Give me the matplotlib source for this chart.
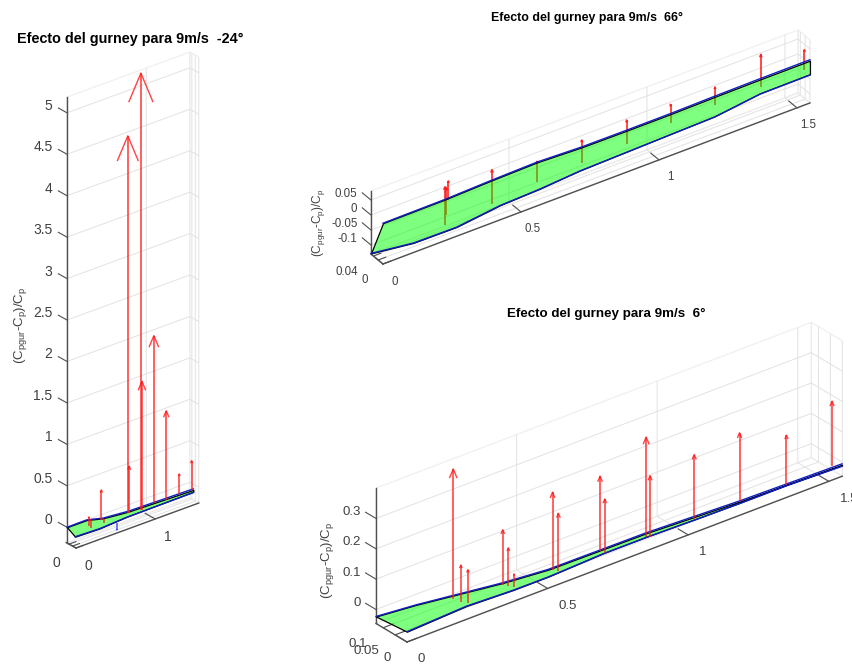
#!/usr/bin/env python
# coding: utf-8
import numpy as np
import matplotlib
matplotlib.use('Agg')
from matplotlib import pyplot as plt
from mpl_toolkits.mplot3d import proj3d
from mpl_toolkits.mplot3d.art3d import Poly3DCollection

plt.rcParams['font.family'] = ['Liberation Sans', 'DejaVu Sans']
plt.rcParams['mathtext.default'] = 'regular'

W, H = 853, 664

# panel -24 deg: wing edges (span x, chord y, height z) and arrows
a_far_x = [0, 0.232, 0.427, 0.727, 1.52]
a_far_y = [0.13, 0.11, 0.097, 0.078, 0.045]
a_far_z = [0, 0.015, -0.027, -0.043, -0.042]
a_near_x = [0, 0.32, 0.665, 1.519]
a_near_y = [0.013, 0.02, 0.026, 0.043]
a_near_z = [-0.06, -0.074, -0.058, -0.062]
a_arrow_x = [0.711, 0.876, 0.889, 1.04, 1.196, 1.361, 1.516, 0.728, 0.377, 0.22, 0.24, 0.405]
a_arrow_z = [-0.047, -0.068, -0.07, -0.042, -0.06, -0.045, -0.05, -0.053, -0.014, -0.032, -0.063, -0.06]
a_arrow_dz = [4.55, 5.27, 1.55, 2.02, 1.076, 0.241, 0.353, 0.566, 0.361, 0.11, 0.1, 0.05]
a_neg_x = [0.572]
a_neg_z = [-0.119]
a_neg_dz = [-0.084]

# panel 66 deg
b_far_x = [0, 0.225, 0.394, 0.559, 0.72, 0.883, 1.04, 1.203, 1.366, 1.547]
b_far_y = [0, 0, 0, 0, 0, 0, 0, 0, 0, 0]
b_far_z = [0.006, 0.007, 0.012, 0.015, 0.009, 0.008, 0.008, 0.01, 0.011, 0.011]
b_near_x = [0, 0.147, 0.297, 0.448, 0.588, 0.729, 1.049, 1.209, 1.37, 1.547]
b_near_y = [0.05, 0.0425, 0.035, 0.0275, 0.0225, 0.0175, 0.01, 0.0075, 0.005, 0]
b_near_z = [-0.128, -0.139, -0.133, -0.108, -0.098, -0.083, -0.068, -0.062, -0.04, -0.034]
b_arrow_x = [0.238, 0.243, 0.25, 0.408, 0.571, 0.733, 0.896, 1.055, 1.216, 1.382, 1.54]
b_arrow_z = [-0.093, -0.06, -0.014, -0.083, -0.066, -0.058, -0.051, -0.035, -0.032, -0.03, -0.027]
b_arrow_dz = [0.128, 0.09, 0.064, 0.116, 0.07, 0.077, 0.08, 0.061, 0.06, 0.109, 0.067]

# panel 6 deg
c_far_x = [0, 0.128, 0.248, 0.403, 0.549, 0.881, 1.196, 1.547]
c_far_y = [0.13, 0.11, 0.0975, 0.0715, 0.0546, 0.0325, 0.013, 0]
c_far_z = [-0.023, -0.02, -0.026, -0.027, -0.027, -0.013, -0.011, -0.008]
c_near_x = [0, 0.212, 0.378, 0.503, 0.699, 0.853, 1.019, 1.185, 1.351, 1.547]
c_near_y = [0, 0, 0, 0, 0, 0, 0, 0, 0, 0]
c_near_z = [-0.012, -0.002, -0.008, -0.008, 0, 0, -0.003, -0.005, -0.005, -0.01]
c_arrow_x = [0.181, 0.208, 0.233, 0.357, 0.377, 0.397, 0.534, 0.555, 0.703, 0.72, 0.867, 0.881, 1.038, 1.199, 1.366, 1.528]
c_arrow_z = [0.022, 0.004, -0.009, 0.007, -0.005, -0.015, -0.006, -0.016, -0.005, -0.016, -0.014, -0.019, -0.015, -0.015, -0.019, -0.016]
c_arrow_dz = [0.429, 0.121, 0.11, 0.182, 0.127, 0.044, 0.256, 0.189, 0.248, 0.178, 0.328, 0.201, 0.211, 0.226, 0.163, 0.215]

a_xticks, a_xlabels = [0, 1], ['0', '1']
a_yticks, a_ylabels = [0, 0.05, 0.1], ['0', '', '']
a_zticks = [0, 0.5, 1, 1.5, 2, 2.5, 3, 3.5, 4, 4.5, 5]
a_zlabels = ['0', '0.5', '1', '1.5', '2', '2.5', '3', '3.5', '4', '4.5', '5']
b_xticks, b_xlabels = [0, 0.5, 1, 1.5], ['0', '0.5', '1', '1.5']
b_yticks, b_ylabels = [0, 0.02, 0.04], ['0', '', '0.04']
b_zticks = [-0.1, -0.05, 0, 0.05]
b_zlabels = ['-0.1', '-0.05', '0', '0.05']
c_xticks, c_xlabels = [0, 0.5, 1, 1.5], ['0', '0.5', '1', '1.5']
c_yticks, c_ylabels = [0, 0.05, 0.1], ['0', '0.05', '0.1']
c_zticks = [0, 0.1, 0.2, 0.3]
c_zlabels = ['0', '0.1', '0.2', '0.3']


def screen(ax, x, y, z):
    X, Y, _ = proj3d.proj_transform(x, y, z, ax.get_proj())
    return ax.transData.transform((X, Y))


def make_axes(fig, elev, azim, lims, box, origin):
    """Orthographic axes whose x=0, y=0, zmin corner lands on origin (pixels from top left)."""
    side = 900
    ax = fig.add_axes([0, 0, side / W, side / H], projection='3d', proj_type='ortho')
    ax.view_init(elev=elev, azim=azim)
    ax.set_xlim(*lims[0])
    ax.set_ylim(*lims[1])
    ax.set_zlim(*lims[2])
    ax.set_box_aspect(box)
    ax.apply_aspect()
    corner = (lims[0][0], lims[1][0], lims[2][0])
    p0 = screen(ax, *corner)
    p1 = screen(ax, lims[0][1], lims[1][0], lims[2][0])
    wanted = box[0] * np.cos(np.radians(-90 - azim))
    zoom = wanted / abs(p1[0] - p0[0])
    ax.set_box_aspect(box, zoom=zoom)
    ax.apply_aspect()
    p0 = screen(ax, *corner)
    left = origin[0] - p0[0]
    bottom = (H - origin[1]) - p0[1]
    ax.set_position([left / W, bottom / H, side / W, side / H])
    ax.apply_aspect()
    ax.patch.set_alpha(0)
    ax.computed_zorder = False
    return ax


def style_axes(ax, xticks, yticks, zticks, factors):
    ax.set_xticks(xticks)
    ax.set_yticks(yticks)
    ax.set_zticks(zticks)
    ax.set_xticklabels([''] * len(xticks))
    ax.set_yticklabels([''] * len(yticks))
    ax.set_zticklabels([''] * len(zticks))
    # z ticks run along y, as in the original view
    ax.zaxis._get_tickdir = lambda pos: 1
    for axis, fac, name in zip((ax.xaxis, ax.yaxis, ax.zaxis), factors, 'xyz'):
        axis.pane.set_facecolor((1, 1, 1, 0))
        axis.pane.set_edgecolor('#e4e4e4')
        axis.line.set_color('#505050')
        axis.line.set_linewidth(1.0)
        axis._axinfo['grid']['color'] = '#e2e2e2'
        axis._axinfo['grid']['linewidth'] = 0.7
        axis._axinfo['tick']['outward_factor'] = fac
        axis._axinfo['tick']['inward_factor'] = 0
        axis._axinfo['tick']['linewidth'] = {True: 0.8, False: 0.5}
        ax.tick_params(axis=name, color='#505050')


def tick_text(fig, ax, points, labels, offset, size, ha):
    """Tick label at a fixed pixel offset from its projected tick position."""
    for pt, s in zip(points, labels):
        if not s:
            continue
        px, py = screen(ax, *pt)
        fig.text((px + offset[0]) / W, (py - offset[1]) / H, s, fontsize=size, color='#404040',
                 ha=ha, va='center')


def label_ticks(fig, ax, xt, xl, yt, yl, zt, zl, size, x_off, x_ha, y_off, z_off):
    xr, yr = ax.get_xlim(), ax.get_ylim()
    zmin = ax.get_zlim()[0]
    tick_text(fig, ax, [(t, yr[0], zmin) for t in xt], xl, x_off, size, x_ha)
    tick_text(fig, ax, [(xr[0], t, zmin) for t in yt], yl, y_off, size, 'right')
    tick_text(fig, ax, [(xr[0], yr[1], t) for t in zt], zl, z_off, size, 'right')


def draw_wing(ax, far, near, blue_off, wing_z):
    xf, yf, zf = [np.array(v, float) for v in far]
    xn, yn, zn = [np.array(v, float) for v in near]
    verts = list(zip(xf, yf, zf)) + list(zip(xn, yn, zn))[::-1]
    ax.add_collection3d(Poly3DCollection([verts], facecolor=(0, 1, 0, 0.5), edgecolor='black',
                                         linewidth=0.9, zorder=wing_z))
    span = ax.get_xlim()[1]
    ax.plot(xf, yf, zf + blue_off * xf / span, color='#1020c0', lw=1.0, zorder=wing_z + 1)
    ax.plot(xn, yn, zn - blue_off * xn / span, color='#1020c0', lw=1.0, zorder=wing_z + 1)


def draw_arrows(ax, x, y, z, dz, azim, box, color='#ff1818', lw=1.2, zorder=5):
    """Vertical quivers; the hat opens sideways on the screen and grows with the arrow."""
    x, z, dz = [np.array(v, float) for v in (x, z, dz)]
    y = np.full_like(x, y)
    ax.quiver(x, y, z, 0 * x, 0 * x, dz, color=color, arrow_length_ratio=0, linewidth=lw,
              alpha=0.8, zorder=zorder)
    xr, yr, zr = ax.get_xlim(), ax.get_ylim(), ax.get_zlim()
    px_x = box[0] / (xr[1] - xr[0])
    px_y = box[1] / (yr[1] - yr[0])
    px_z = box[2] / (zr[1] - zr[0]) * np.cos(np.radians(ax.elev))
    az = np.radians(azim)
    for xi, yi, zi, d in zip(x, y, z, dz):
        hat = 0.065 * d
        half = 0.42 * abs(hat) * px_z
        dx = half * -np.sin(az) / px_x
        dy = half * np.cos(az) / px_y
        tip = zi + d
        ax.plot([xi - dx, xi, xi + dx], [yi - dy, yi, yi + dy], [tip - hat, tip, tip - hat],
                color=color, lw=lw * 0.85, alpha=0.8, zorder=zorder)


fig = plt.figure(figsize=(W / 100, H / 100), dpi=100, facecolor='white')

# left panel
az_a = -129
box_a = (158, 14.3, 500)
ax_a = make_axes(fig, 26.9, az_a, ((0, 1.55), (0, 0.13), (-0.19, 5.19)), box_a, (76, 548))
style_axes(ax_a, a_xticks, a_yticks, a_zticks, (14, 0.7, 12))
label_ticks(fig, ax_a, a_xticks, a_xlabels, a_yticks, a_ylabels, a_zticks, a_zlabels, 10,
            (12.5, 18.5), 'center', (-16, 15), (-14.5, -7))
draw_wing(ax_a, (a_far_x, a_far_y, a_far_z), (a_near_x, a_near_y, a_near_z), 0.012, 3)
draw_arrows(ax_a, a_arrow_x, 0.065, a_arrow_z, a_arrow_dz, az_a, box_a)
draw_arrows(ax_a, a_neg_x, 0.065, a_neg_z, a_neg_dz, az_a, box_a, color='#3040ff')

# top right panel
az_b = -124
box_b = (515, 21.5, 76)
ax_b = make_axes(fig, 34, az_b, ((0, 1.547), (0, 0.05), (-0.13, 0.08)), box_b, (383, 264))
style_axes(ax_b, b_xticks, b_yticks, b_zticks, (8.5, 0.22, 9))
label_ticks(fig, ax_b, b_xticks, b_xlabels, b_yticks, b_ylabels, b_zticks, b_zlabels, 8.3,
            (11.5, 17.5), 'center', (-15, 15.5), (-13.5, -6.5))
draw_arrows(ax_b, b_arrow_x, 0.015, b_arrow_z, b_arrow_dz, az_b, box_b, lw=1.4, zorder=2)
draw_wing(ax_b, (b_far_x, b_far_y, b_far_z), (b_near_x, b_near_y, b_near_z), 0.003, 3)

# bottom right panel
az_c = -128.6
box_c = (557, 49.7, 154)
ax_c = make_axes(fig, 28.5, az_c, ((0, 1.548), (0, 0.13), (-0.046, 0.4)), box_c, (407, 642))
style_axes(ax_c, c_xticks, c_yticks, c_zticks, (4, 0.28, 4.2))
label_ticks(fig, ax_c, c_xticks, c_xlabels, c_yticks, c_ylabels, c_zticks, c_zlabels, 9.5,
            (11, 17.5), 'left', (-16, 16), (-15, -6.5))
draw_wing(ax_c, (c_far_x, c_far_y, c_far_z), (c_near_x, c_near_y, c_near_z), 0.003, 3)
draw_arrows(ax_c, c_arrow_x, 0.0195, c_arrow_z, c_arrow_dz, az_c, box_c)

# titles and z labels
fig.text(130 / W, 1 - 38.5 / H, 'Efecto del gurney para 9m/s  -24°', fontsize=10.4, fontweight='bold', ha='center', va='center')
fig.text(587 / W, 1 - 18 / H, 'Efecto del gurney para 9m/s  66°', fontsize=8.95, fontweight='bold', ha='center', va='center')
fig.text(606 / W, 1 - 314 / H, 'Efecto del gurney para 9m/s  6°', fontsize=9.65, fontweight='bold', ha='center', va='center')
zlabel = r'(C$_{pgur}$-C$_{p}$)/C$_{p}$'
fig.text(21 / W, 1 - 325 / H, zlabel, fontsize=9.5, color='#404040', rotation=90, ha='center', va='center')
fig.text(319 / W, 1 - 223 / H, zlabel, fontsize=8.5, color='#404040', rotation=90, ha='center', va='center')
fig.text(328 / W, 1 - 560 / H, zlabel, fontsize=9.5, color='#404040', rotation=90, ha='center', va='center')

fig.savefig('out.png', dpi=100)
